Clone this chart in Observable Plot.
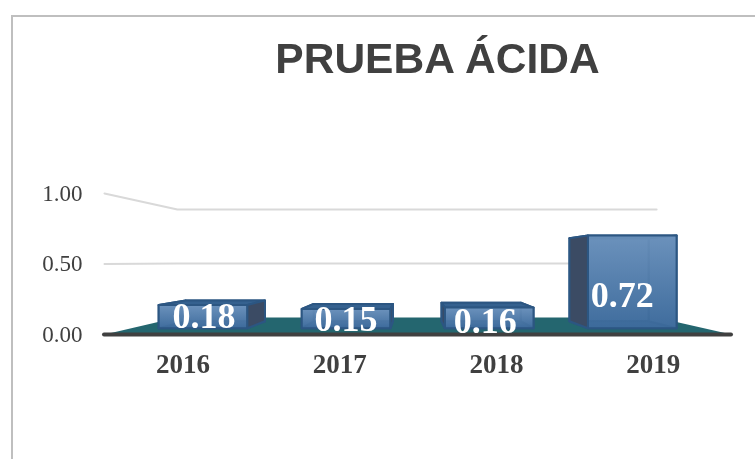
<!DOCTYPE html>
<html>
<head>
<meta charset="utf-8">
<script src="https://cdn.jsdelivr.net/npm/d3@7"></script>
<script src="https://cdn.jsdelivr.net/npm/@observablehq/plot@0.6"></script>
<style>
  html, body { margin: 0; padding: 0; background: #fff; }
  #frame { position: relative; width: 755px; height: 459px; overflow: hidden; background: #fff; filter: blur(0.35px); }
  #frame svg { position: absolute; left: 0; top: 0; }
  #border { position: absolute; left: 11px; top: 15px; width: 760px; height: 460px; border: 2px solid #bfbfbf; box-sizing: border-box; }
  #title { position: absolute; left: 0; width: 875px; top: 35px; margin: 0; text-align: center; font: bold 42.5px "Liberation Sans", Arial, sans-serif; color: #404040; }
</style>
</head>
<body>
<div id="frame"><div id="border"></div><div id="chart"></div><h1 id="title">PRUEBA ÁCIDA</h1></div>
<script>
const categories = ["2016", "2017", "2018", "2019"];
const values = [0.18, 0.15, 0.16, 0.72];
const gridValues = [0.5, 1];
const labelNudges = [[1, 0], [0, 1], [-4, 4], [-10, 14]];

// Oblique view of the 3-D chart: depth d runs from the front edge (0) to the back wall (1).
const view = {backInsetX: 73 / 157, backScaleX: 120 / 157, backInsetY: 17 / 141, backScaleY: 108 / 141,
  barFrontDepth: 0.37, barBackDepth: 0.78, barHalfWidth: 0.31};
const px = (u, d) => u + d * (view.backInsetX + u * (view.backScaleX - 1));
const py = (v, d) => v + d * (view.backInsetY + v * (view.backScaleY - 1));
const pt = (u, v, d) => ({x: px(u, d), y: py(v, d)});

const dF = view.barFrontDepth, dB = view.barBackDepth, hw = view.barHalfWidth;
const poly = (id, pts) => [...pts, pts[0]].map((p) => ({...p, id}));

const floor = poly("floor", [pt(0, 0, 0), pt(0, 0, 1), pt(4, 0, 1), pt(4, 0, 0)]);
const grid = gridValues.flatMap((v) => [pt(0, v, 0), pt(0, v, 1), pt(4, v, 1)].map((p) => ({...p, id: v})));

const faces = {back: [], bottom: [], top: [], front: [], inner: [], outer: []};
values.forEach((v, i) => {
  const l = i + 0.5 - hw, r = i + 0.5 + hw;
  faces.back.push(...poly(i, [pt(l, 0, dB), pt(r, 0, dB), pt(r, v, dB), pt(l, v, dB)]));
  faces.bottom.push(...poly(i, [pt(l, 0, dF), pt(r, 0, dF), pt(r, 0, dB), pt(l, 0, dB)]));
  faces.top.push(...poly(i, [pt(l, v, dF), pt(r, v, dF), pt(r, v, dB), pt(l, v, dB)]));
  faces.front.push(...poly(i, [pt(l, 0, dF), pt(r, 0, dF), pt(r, v, dF), pt(l, v, dF)]));
  // The side that leans outward from the vanishing point is seen from outside and looks dark.
  const side = (s) => poly(i + "s" + s, [pt(s, 0, dF), pt(s, 0, dB), pt(s, v, dB), pt(s, v, dF)]);
  const leftOfCentre = i < 2;
  faces.outer.push(...side(leftOfCentre ? r : l));
  faces.inner.push(...side(leftOfCentre ? l : r));
});

const edge = "#2c5682";
const face = (data, fill, extra = {}) => Plot.line(data, {x: "x", y: "y", z: "id", fill, stroke: edge, strokeWidth: 2, curve: "linear", ...extra});

const gradient = () => {
  const svgNS = "http://www.w3.org/2000/svg";
  const defs = document.createElementNS(svgNS, "defs");
  defs.innerHTML = `<linearGradient id="frontFill" x1="0" y1="0" x2="0" y2="1">
    <stop offset="0" stop-color="#6d93bd"/><stop offset="1" stop-color="#3c6a9b"/></linearGradient>`;
  return defs;
};

const chart = Plot.plot({
  width: 755, height: 459,
  marginLeft: 104, marginRight: 24, marginTop: 193, marginBottom: 125,
  style: {background: "transparent"},
  x: {domain: [0, 4], axis: null},
  y: {domain: [0, 1], axis: null},
  marks: [
    gradient,
    Plot.line(grid, {x: "x", y: "y", z: "id", stroke: "#d9d9d9", strokeWidth: 2}),
    Plot.line(floor, {x: "x", y: "y", z: "id", fill: "#24666f", stroke: "none"}),
    Plot.ruleY([0], {x1: 0, x2: 4, stroke: "#404040", strokeWidth: 4, strokeLinecap: "round"}),
    face(faces.back, "#5e86b3"),
    face(faces.bottom, "#3d6a9a"),
    face(faces.inner, "#5b83b0"),
    face(faces.top, "#35618f"),
    face(faces.front, "url(#frontFill)", {fillOpacity: 0.9}),
    face(faces.outer, "#3b4b64"),
    Plot.axisY({ticks: [0, 0.5, 1], tickFormat: ".2f", tickSize: 0, tickPadding: 22, label: null,
      fontSize: 23, fontFamily: "'Liberation Serif', serif", fill: "#404040"}),
    Plot.axisX({ticks: categories.map((_, i) => i + 0.5), tickFormat: (t) => categories[Math.floor(t)],
      tickSize: 0, tickPadding: 19, label: null, fontSize: 27, fontWeight: "bold",
      fontFamily: "'Liberation Serif', serif", fill: "#404040"}),
    ...values.map((v, i) => Plot.text([pt(i + 0.5, v / 2, dF)], {
      x: "x", y: "y", text: () => v.toFixed(2), dx: labelNudges[i][0], dy: labelNudges[i][1],
      fill: "white", fontSize: 36, fontWeight: "bold", fontFamily: "'Liberation Serif', serif"
    }))
  ]
});
document.getElementById("chart").append(chart);
</script>
</body>
</html>
